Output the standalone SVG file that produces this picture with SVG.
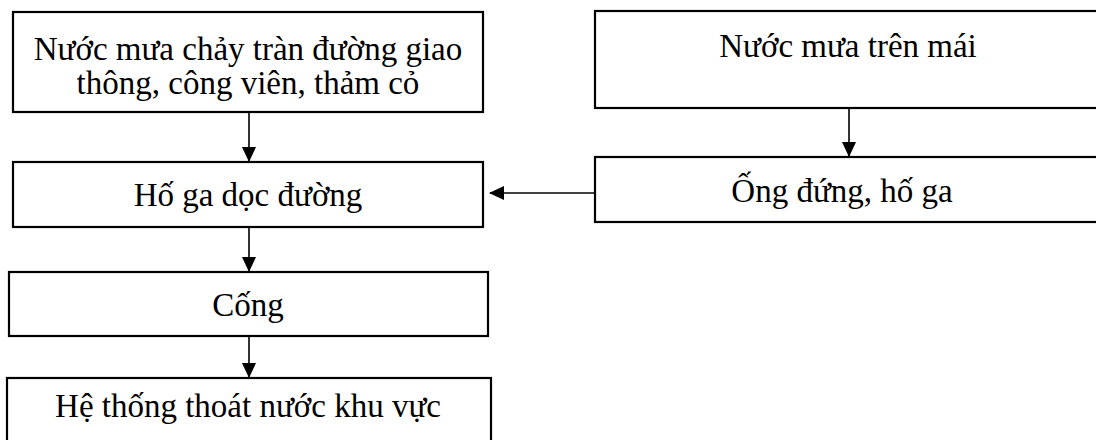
<svg xmlns="http://www.w3.org/2000/svg" width="1096" height="440" viewBox="0 0 1096 440">
<style>
.box{fill:#fff;stroke:#000;stroke-width:2.2}
.t{font-family:"Liberation Serif","Times New Roman",serif;font-size:33px;fill:#000;text-anchor:middle}
.c{stroke:#000;stroke-width:1.6;fill:none}
</style>
<defs>
<marker id="ah" markerWidth="15" markerHeight="14" refX="14" refY="7" orient="auto" markerUnits="userSpaceOnUse">
<path d="M0,0 L15,7 L0,14 Z" fill="#000"/>
</marker>
</defs>
<rect width="1096" height="440" fill="#fff"/>
<g id="n1">
<rect class="box" x="13" y="12" width="470" height="100"/>
<text class="t" x="248" y="60">Nước mưa chảy tràn đường giao</text>
<text class="t" x="248" y="94">thông, công viên, thảm cỏ</text>
</g>
<g id="n2">
<rect class="box" x="13" y="162" width="470" height="65"/>
<text class="t" x="248" y="206">Hố ga dọc đường</text>
</g>
<g id="n3">
<rect class="box" x="9" y="272" width="479" height="64"/>
<text class="t" x="248" y="316">Cống</text>
</g>
<g id="n4">
<rect class="box" x="7" y="378" width="484" height="80"/>
<text class="t" x="248" y="417">Hệ thống thoát nước khu vực</text>
</g>
<g id="n5">
<rect class="box" x="595" y="11" width="520" height="97"/>
<text class="t" x="848" y="57">Nước mưa trên mái</text>
</g>
<g id="n6">
<rect class="box" x="595" y="157" width="520" height="65"/>
<text class="t" x="842" y="202">Ống đứng, hố ga</text>
</g>
<g id="connectors">
<line class="c" x1="249" y1="112" x2="249" y2="161" marker-end="url(#ah)"/>
<line class="c" x1="249" y1="227" x2="249" y2="271" marker-end="url(#ah)"/>
<line class="c" x1="249" y1="336" x2="249" y2="377" marker-end="url(#ah)"/>
<line class="c" x1="849" y1="108" x2="849" y2="156" marker-end="url(#ah)"/>
<line class="c" x1="595" y1="193" x2="490" y2="193" marker-end="url(#ah)"/>
</g>
</svg>
